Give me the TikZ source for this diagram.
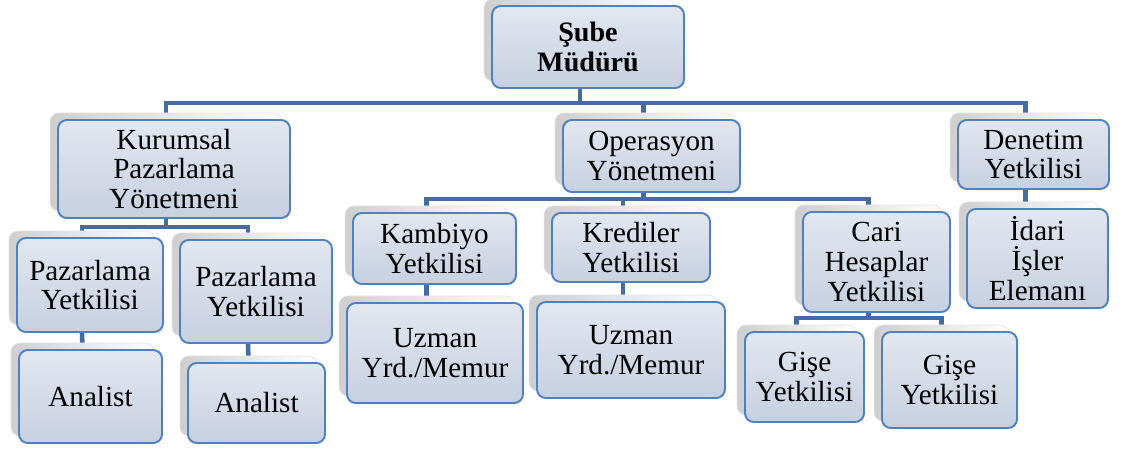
\documentclass[tikz,border=0pt]{standalone}
\usepackage{fontspec}
\setmainfont{Liberation Serif}
\usetikzlibrary{fit,backgrounds}
\definecolor{edgeblue}{RGB}{79,129,189}
\definecolor{connblue}{RGB}{68,108,160}
\definecolor{filltop}{RGB}{226,231,240}
\definecolor{fillbot}{RGB}{198,208,224}
\tikzset{
  frontbox/.style={draw=edgeblue, line width=1.1pt, rounded corners=5pt, inner sep=0pt,
    top color=filltop, bottom color=fillbot},
  boxtext/.style={align=center, inner sep=0pt, font=\fontsize{16.6}{17}\selectfont},
  backbox/.style={rounded corners=5pt, inner sep=0pt, left color=gray!38, right color=white,
    draw=gray!20, line width=0.4pt},
  conn/.style={draw=connblue, line width=2.6pt}
}
\newcommand\orgbox[6]{%
  \node[backbox, fit={(#2-8,#3-7) (#4-8,#5-7)}] (#1b) {};
  \node[frontbox, fit={(#2,#3) (#4,#5)}] (#1) {};
  \node[boxtext] (#1t) at (#1.center) {#6};
}
\begin{document}
\begin{tikzpicture}[x=0.02cm,y=-0.02cm]
\useasboundingbox (0,0) rectangle (1122,452);
\orgbox{sube}{492}{6}{684}{88}{\bfseries\fontsize{16}{15.5}\selectfont Şube\\\bfseries\fontsize{16}{15.5}\selectfont Müdürü}
\orgbox{kur}{58}{120}{290}{218}{Kurumsal\\Pazarlama\\Yönetmeni}
\orgbox{ope}{563}{120}{740}{192}{Operasyon\\Yönetmeni}
\orgbox{den}{958}{120}{1109}{189}{Denetim\\Yetkilisi}
\orgbox{pya}{17}{238}{163}{332}{Pazarlama\\Yetkilisi}
\orgbox{pyb}{180}{240}{332}{343}{Pazarlama\\Yetkilisi}
\orgbox{ana}{19}{350}{162}{443}{Analist}
\orgbox{anb}{188}{363}{325}{443}{Analist}
\orgbox{kam}{353}{213}{516}{284}{Kambiyo\\Yetkilisi}
\orgbox{kre}{552}{213}{710}{282}{Krediler\\Yetkilisi}
\orgbox{uza}{347}{303}{523}{403}{Uzman\\Yrd./Memur}
\orgbox{uzb}{537}{302}{725}{398}{Uzman\\Yrd./Memur}
\orgbox{cari}{803}{212}{950}{312}{Cari\\Hesaplar\\Yetkilisi}
\orgbox{gia}{745}{332}{864}{422}{Gişe\\Yetkilisi}
\orgbox{gib}{882}{332}{1017}{428}{Gişe\\Yetkilisi}
\orgbox{ida}{967}{209}{1108}{308}{İdari\\İşler\\Elemanı}
\coordinate (bA) at (0,103);
\coordinate (bB) at (0,227);
\coordinate (bC) at (0,199);
\coordinate (bD) at (0,318);
\begin{pgfonlayer}{background}
\draw[conn] (kurb.center |- kur.north) -- (kurb.center |- bA) -- (denb.center |- bA) -- (denb.center |- den.north);
\draw[conn] (sube.south -| subeb.center) -- (subeb.center |- bA);
\draw[conn] (ope.north -| opeb.center) -- (opeb.center |- bA);
\draw[conn] (kur.south -| kurb.center) -- (kurb.center |- bB);
\draw[conn] (pyab.center |- pya.north) -- (pyab.center |- bB) -- (pybb.center |- bB) -- (pybb.center |- pyb.north);
\draw[conn] (pya.south -| pyab.center) -- (anab.center |- ana.north);
\draw[conn] (pyb.south -| pybb.center) -- (anbb.center |- anb.north);
\draw[conn] (ope.south -| opeb.center) -- (opeb.center |- bC);
\draw[conn] (kamb.center |- kam.north) -- (kamb.center |- bC) -- (carib.center |- bC) -- (carib.center |- cari.north);
\draw[conn] (kreb.center |- kre.north) -- (kreb.center |- bC);
\draw[conn] (kam.south -| kamb.center) -- (kamb.center |- uza.north);
\draw[conn] (kre.south -| kreb.center) -- (kreb.center |- uzb.north);
\draw[conn] (cari.south -| carib.center) -- (carib.center |- bD);
\draw[conn] (giab.center |- gia.north) -- (giab.center |- bD) -- (gibb.center |- bD) -- (gibb.center |- gib.north);
\draw[conn] (den.south -| denb.center) -- (denb.center |- ida.north);
\end{pgfonlayer}
\end{tikzpicture}
\end{document}
